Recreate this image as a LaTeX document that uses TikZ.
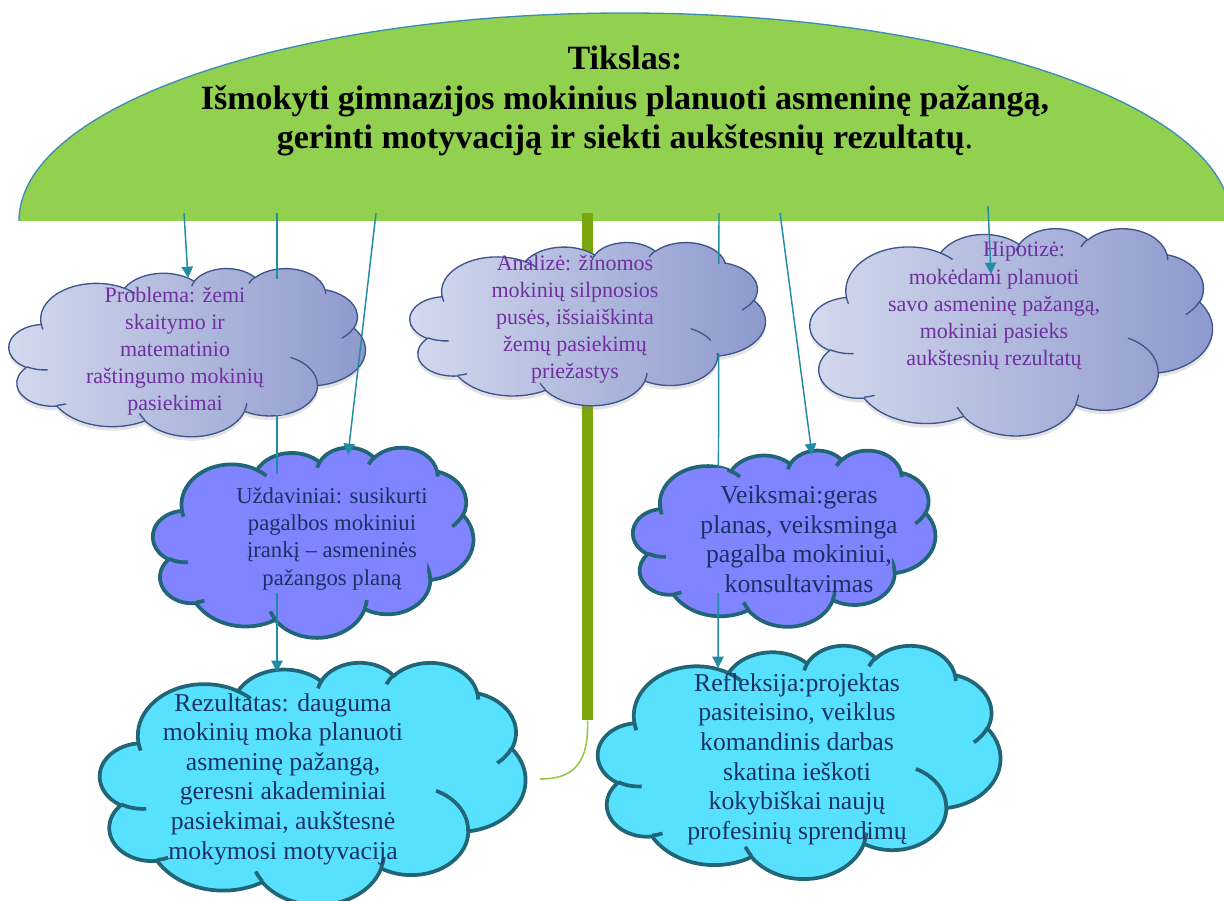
\documentclass[tikz,border=0pt]{standalone}
\usepackage{fontspec}
\setmainfont{Liberation Serif}
\usetikzlibrary{arrows.meta,shadows}

\definecolor{goalgreen}{RGB}{146,208,80}
\definecolor{goalline}{RGB}{60,140,180}
\definecolor{barc}{RGB}{122,166,14}
\definecolor{curvec}{RGB}{155,200,70}
\definecolor{connc}{RGB}{35,140,165}
\definecolor{lavL}{RGB}{212,218,238}
\definecolor{lavR}{RGB}{140,152,204}
\definecolor{lavline}{RGB}{62,84,140}
\definecolor{midfill}{RGB}{128,132,255}
\definecolor{lowfill}{RGB}{88,225,255}
\definecolor{tealline}{RGB}{33,102,118}
\definecolor{purp}{RGB}{112,48,160}
\definecolor{navy}{RGB}{25,50,100}

% PowerPoint-like cloud geometry (unit box 0..100)
\newcommand\defarc[5]{%
  \pgfmathsetmacro\cldA{atan2((#2)*sin(#4),(#3)*cos(#4))}%
  \pgfmathsetmacro\cldB{atan2((#2)*sin((#4)+(#5)),(#3)*cos((#4)+(#5)))}%
  \pgfmathsetmacro\cldD{\cldB-\cldA}%
  \pgfmathsetmacro\cldD{((#5)>0 && \cldD<0) ? \cldD+360 : (((#5)<0 && \cldD>0) ? \cldD-360 : \cldD)}%
  \expandafter\xdef\csname cldarc#1\endcsname{arc[x radius=#2,y radius=#3,start angle=\cldA,delta angle=\cldD]}%
}
\newcommand\carc[1]{\csname cldarc#1\endcsname}
\defarc{1}{15.632}{21.273}{-190.4875}{123.7805}
\defarc{2}{12.345}{16.822}{-144.1024}{89.9452}
\defarc{3}{10.104}{13.762}{-145.8079}{99.7230}
\defarc{4}{11.243}{15.266}{-130.9861}{117.2417}
\defarc{5}{12.345}{16.836}{-78.7089}{109.0269}
\defarc{6}{15.683}{21.343}{-46.2673}{130.2690}
\defarc{7}{13.391}{18.211}{0.6250}{114.0333}
\defarc{8}{15.630}{21.331}{22.4516}{115.1726}
\defarc{9}{17.870}{24.405}{66.2426}{75.7110}
\defarc{10}{10.093}{13.699}{-274.9421}{146.7356}
\defarc{11}{10.058}{13.762}{-246.8285}{152.5189}
\defarc{h1}{10.058}{13.762}{86.742}{26.4295}
\defarc{h2}{10.093}{13.699}{73.6105}{11.4475}
\defarc{h3}{15.630}{21.331}{137.6242}{14.0811}
\defarc{h4}{15.630}{21.331}{6.4533}{15.9984}
\defarc{h5}{13.391}{18.211}{-70.2924}{70.9174}
\defarc{h6}{12.345}{16.836}{30.3180}{27.7515}
\defarc{h7}{11.243}{15.266}{-13.7443}{14.8589}
\defarc{h8}{11.243}{15.266}{-149.1815}{18.1954}
\defarc{h9}{10.104}{13.762}{-163.4943}{17.6864}
\defarc{h10}{15.632}{21.273}{-66.7070}{12.3194}
\defarc{h11}{15.632}{21.273}{157.6544}{11.8582}

\newcommand\cloudshape{(9.028,33.264) \carc{1} \carc{2} \carc{3} \carc{4} \carc{5} \carc{6} \carc{7} \carc{8} \carc{9} \carc{10} \carc{11} -- cycle}
\newcommand\cloudhints{(10.863,60.595) \carc{h1} (16.037,80.785) \carc{h2} (38.144,90.486) \carc{h3} (66.729,80.442) \carc{h4} (79.002,53.134) \carc{h5} (96.755,35.542) \carc{h6} (88.713,12.560) \carc{h7} (67.310,9.148) \carc{h8} (51.252,10.926) \carc{h9} (32.407,12.019) \carc{h10} (9.553,36.549) \carc{h11}}

% #1 name, #2 x0, #3 y0, #4 w, #5 h (px), #6 style
\newcommand\mkcloud[6]{%
  \node[cloudbox, minimum width=#4*0.75pt, minimum height=#5*0.75pt, anchor=north west] (#1) at (#2,#3) {};
  \begin{scope}[shift={(#2,#3)}, x=#4*0.0075pt, y=-#5*0.0075pt]
    \path[#6] \cloudshape;
    \path[#6 hint] \cloudhints;
  \end{scope}}
% refill part of a cloud inside a clip band
\newcommand\cloudband[6]{%
  \begin{scope}
    \clip #6;
    \begin{scope}[shift={(#1,#2)}, x=#3*0.0075pt, y=-#4*0.0075pt]
      \path[#5] \cloudshape;
    \end{scope}
  \end{scope}}

\begin{document}
\begin{tikzpicture}[x=0.75pt,y=-0.75pt,
  cloudbox/.style={inner sep=0pt, outer sep=0pt, draw=none},
  topfill/.style={left color=lavL, right color=lavR},
  topcloud/.style={topfill, draw=lavline, line width=1pt,
    drop shadow={opacity=0.22, shadow xshift=0pt, shadow yshift=-3pt}},
  topcloud hint/.style={draw=lavline, line width=1pt},
  midfillonly/.style={fill=midfill},
  midcloud/.style={fill=midfill, draw=tealline, line width=2.8pt},
  midcloud hint/.style={draw=tealline, line width=2.8pt},
  lowcloud/.style={fill=lowfill, draw=tealline, line width=2.8pt},
  lowcloud hint/.style={draw=tealline, line width=2.8pt},
  conn/.style={draw=connc, line width=1.1pt, -{Triangle[length=8.5pt,width=8.5pt]}},
  ttext/.style={font=\bfseries\fontsize{25.5}{29.6}\selectfont, align=center, inner sep=0pt},
  ptext/.style={font=\fontsize{16.5}{20.3}\selectfont, text=purp, align=center, inner sep=0pt},
  utext/.style={font=\fontsize{17}{20.3}\selectfont, text=navy, align=center, inner sep=0pt},
  ntext/.style={font=\fontsize{19.3}{22.2}\selectfont, text=navy, align=center, inner sep=0pt},
  barnode/.style={fill=barc, draw=none, inner sep=0pt, minimum width=11*0.75pt, minimum height=507*0.75pt}
]
\useasboundingbox (0,0) rectangle (1224,900);
\clip (0,0) rectangle (1224,900);

% goal half-ellipse
\fill[goalgreen] (19,221) arc[start angle=180,end angle=360,x radius=606,y radius=208] -- cycle;
\draw[goalline, line width=1pt] (19,221) arc[start angle=180,end angle=360,x radius=606,y radius=208];
\node[ttext] (goal) at (625,101) {Tikslas:\\Išmokyti gimnazijos mokinius planuoti asmeninę pažangą,\\gerinti motyvaciją ir siekti aukštesnių rezultatų\textmd{.}};

% green stem
\node[barnode, anchor=north] (bar) at (587.5,213) {};
\coordinate (curveEnd) at (540,779);
\draw[curvec, line width=1.2pt] (bar.south) .. controls (589,765) and (572,779) .. (curveEnd);

% clouds
\mkcloud{prob}{9}{268}{356}{168}{topcloud}
\mkcloud{anal}{410}{242}{355}{163}{topcloud}
\mkcloud{hipo}{810}{228}{402}{207}{topcloud}
\mkcloud{uzd}{153}{447}{320}{190}{midcloud}
\mkcloud{veik}{633}{450}{302}{176}{midcloud}
\mkcloud{rez}{100}{662}{425}{242}{lowcloud}
\mkcloud{refl}{598}{645}{402}{233}{lowcloud}

% connector start points on the goal
\coordinate (s1) at (184,213);
\coordinate (s2) at (277,213);
\coordinate (s3) at (376,213);
\coordinate (s4) at (719,213);
\coordinate (s5) at (780,213);
\coordinate (s6) at (988,206);
% connector end points on the clouds
\coordinate (e1) at ([shift={(179,10)}]prob.north west);
\coordinate (e2) at ([shift={(177,10)}]rez.north west);
\coordinate (e3) at ([shift={(195,8)}]uzd.north west);
\coordinate (e4) at ([shift={(120,23)}]refl.north west);
\coordinate (e5) at ([shift={(179,5)}]veik.north west);
\coordinate (e6) at ([shift={(181,46)}]hipo.north west);

% long connectors passing through clouds
\draw[conn] (s2) -- (e2);
\draw[conn] (s4) -- (e4);
% parts hidden by the text areas
\cloudband{9}{268}{356}{168}{topfill}{(269,279) rectangle (285,414)}
\cloudband{153}{447}{320}{190}{midfillonly}{(269,474) rectangle (285,592)}
\cloudband{410}{242}{355}{163}{topfill}{(711,264) rectangle (727,352)}
\cloudband{633}{450}{302}{176}{midfillonly}{(711,468) rectangle (727,592)}
\cloudband{153}{447}{320}{190}{midfillonly}{(396,538) rectangle (427,570)}
\cloudband{633}{450}{302}{176}{midfillonly}{(858,533) rectangle (892,566)}

% texts
\node[ptext] (probT) at (175,351) {Problema: žemi\\skaitymo ir\\matematinio\\raštingumo mokinių\\pasiekimai};
\node[ptext] (analT) at (575,319) {Analizė: žinomos\\mokinių silpnosios\\pusės, išsiaiškinta\\žemų pasiekimų\\priežastys};
\node[ptext] (hipoT) at (994,306) {\hspace*{45pt}Hipotizė:\\mokėdami planuoti\\savo asmeninę pažangą,\\mokiniai pasieks\\aukštesnių rezultatų};
\node[utext] (uzdT) at (332,539) {Uždaviniai: susikurti\\pagalbos mokiniui\\įrankį – asmeninės\\pažangos planą};
\node[ntext] (veikT) at (799,539) {Veiksmai:geras\\planas, veiksminga\\pagalba mokiniui,\\konsultavimas};
\node[ntext] (rezT) at (283,779) {Rezultatas: dauguma\\mokinių moka planuoti\\asmeninę pažangą,\\geresni akademiniai\\pasiekimai, aukštesnė\\mokymosi motyvacija};
\node[ntext] (reflT) at (797,759) {Refleksija:projektas\\pasiteisino, veiklus\\komandinis darbas\\skatina ieškoti\\kokybiškai naujų\\profesinių sprendimų};

% short connectors
\draw[conn] (s1) -- (e1);
\draw[conn] (s3) -- (e3);
\draw[conn] (s5) -- (e5);
\draw[conn] (s6) -- (e6);
\end{tikzpicture}
\end{document}
